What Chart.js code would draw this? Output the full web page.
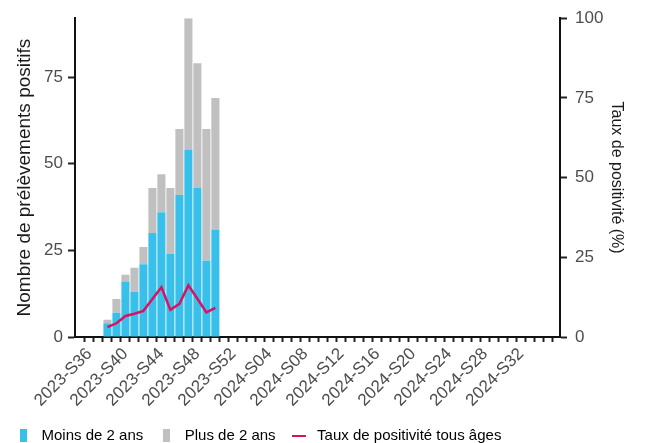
<!DOCTYPE html>
<html lang="fr">
<head>
<meta charset="utf-8">
<title>Prélèvements positifs</title>
<script src="https://cdn.jsdelivr.net/npm/chart.js@4.4.1/dist/chart.umd.min.js"></script>
<style>
  html, body { margin: 0; padding: 0; background: #fff; }
  #wrap { width: 649px; height: 443px; }
</style>
</head>
<body>
<div id="wrap"><canvas id="chart" width="649" height="443"></canvas></div>
<script>
// Weeks shown on the x axis
const weeks = [
    '2023-S36', '2023-S37', '2023-S38', '2023-S39', '2023-S40', '2023-S41', '2023-S42', '2023-S43',
    '2023-S44', '2023-S45', '2023-S46', '2023-S47', '2023-S48', '2023-S49', '2023-S50', '2023-S51',
    '2023-S52', '2024-S01', '2024-S02', '2024-S03', '2024-S04', '2024-S05', '2024-S06', '2024-S07',
    '2024-S08', '2024-S09', '2024-S10', '2024-S11', '2024-S12', '2024-S13', '2024-S14', '2024-S15',
    '2024-S16', '2024-S17', '2024-S18', '2024-S19', '2024-S20', '2024-S21', '2024-S22', '2024-S23',
    '2024-S24', '2024-S25', '2024-S26', '2024-S27', '2024-S28', '2024-S29', '2024-S30', '2024-S31',
    '2024-S32', '2024-S33', '2024-S34', '2024-S35'
];

// Weeks with data
const dataWeeks = [
    '2023-S38', '2023-S39', '2023-S40', '2023-S41', '2023-S42', '2023-S43', '2023-S44',
    '2023-S45', '2023-S46', '2023-S47', '2023-S48', '2023-S49', '2023-S50'
];
const moinsDe2Ans = [4, 7, 16, 13, 21, 30, 36, 24, 41, 54, 43, 22, 31];
const plusDe2Ans = [1, 4, 2, 7, 5, 13, 11, 19, 19, 38, 36, 38, 38];
const tauxPositivite = [3.1, 4.3, 6.6, 7.3, 8.2, 11.9, 15.6, 8.5, 10.4, 16.2, 12.0, 7.7, 9.1];

const leftTicks = [0, 25, 50, 75];
const rightTicks = [0, 25, 50, 75, 100];

// Colors
const blue = '#38C0EA';
const gray = '#C0C0C0';
const pink = '#DC1260';

Chart.defaults.font.family = '"Liberation Sans", Arial, sans-serif';

// Build {x, y} points from a week list
function toPoints(values) {
    return dataWeeks.map((w, i) => ({ x: weeks.indexOf(w), y: values[i] }));
}

// Small canvases used as legend keys
function makeKey(w, h, color) {
    const c = document.createElement('canvas');
    c.width = w;
    c.height = h;
    const g = c.getContext('2d');
    g.fillStyle = color;
    g.fillRect(0, 0, w, h);
    return c;
}
const blueKey = makeKey(7, 13, blue);
const grayKey = makeKey(7, 13, gray);
const lineKey = makeKey(14, 2, pink);

const ctx = document.getElementById('chart');

new Chart(ctx, {
    type: 'bar',
    data: {
        datasets: [
            {
                type: 'line',
                label: 'Taux de positivité tous âges',
                data: toPoints(tauxPositivite),
                borderColor: pink,
                borderWidth: 2.5,
                pointRadius: 0,
                tension: 0,
                yAxisID: 'y1',
                order: 0
            },
            {
                label: 'Moins de 2 ans',
                data: toPoints(moinsDe2Ans),
                backgroundColor: blue,
                barPercentage: 0.9,
                categoryPercentage: 1,
                yAxisID: 'y',
                order: 1
            },
            {
                label: 'Plus de 2 ans',
                data: toPoints(plusDe2Ans),
                backgroundColor: gray,
                barPercentage: 0.9,
                categoryPercentage: 1,
                yAxisID: 'y',
                order: 1
            }
        ]
    },
    options: {
        responsive: false,
        animation: false,
        layout: {
            padding: { top: 17, right: 0, bottom: -10, left: 0 }
        },
        plugins: {
            tooltip: { enabled: false },
            legend: {
                position: 'bottom',
                align: 'start',
                labels: {
                    usePointStyle: true,
                    pointStyleWidth: 22,
                    padding: 12,
                    color: '#1a1a1a',
                    font: { size: 15 },
                    generateLabels: () => [
                        { text: 'Moins de 2 ans', pointStyle: blueKey, fillStyle: blue, strokeStyle: blue, lineWidth: 0, hidden: false, datasetIndex: 1 },
                        { text: 'Plus de 2 ans', pointStyle: grayKey, fillStyle: gray, strokeStyle: gray, lineWidth: 0, hidden: false, datasetIndex: 2 },
                        { text: 'Taux de positivité tous âges', pointStyle: lineKey, fillStyle: pink, strokeStyle: pink, lineWidth: 0, hidden: false, datasetIndex: 0 }
                    ]
                }
            }
        },
        scales: {
            x: {
                type: 'linear',
                stacked: true,
                min: -1.09,
                max: 51.8,
                afterBuildTicks: (scale) => {
                    scale.ticks = weeks.map((w, i) => ({ value: i }));
                },
                afterFit: (scale) => { scale.height = 79; },
                grid: {
                    display: true,
                    drawOnChartArea: false,
                    drawTicks: true,
                    tickLength: 5,
                    tickWidth: 2,
                    tickColor: '#222'
                },
                border: { display: true, color: '#111', width: 2 },
                ticks: {
                    autoSkip: false,
                    maxRotation: 45,
                    minRotation: 45,
                    labelOffset: 0,
                    padding: 2,
                    color: '#4d4d4d',
                    font: { size: 17 },
                    callback: (value) => (value % 4 === 0 ? weeks[value] : '')
                }
            },
            y: {
                position: 'left',
                stacked: true,
                min: 0,
                max: 92,
                afterBuildTicks: (scale) => {
                    scale.ticks = leftTicks.map(v => ({ value: v }));
                },
                afterFit: (scale) => { scale.width = 75; },
                grid: {
                    display: true,
                    drawOnChartArea: false,
                    tickLength: 7,
                    tickWidth: 2,
                    tickColor: '#222'
                },
                border: { display: true, color: '#111', width: 2 },
                ticks: {
                    padding: 5,
                    color: '#4d4d4d',
                    font: { size: 17 }
                },
                title: {
                    display: true,
                    text: 'Nombre de prélèvements positifs',
                    color: '#1a1a1a',
                    font: { size: 19 },
                    padding: { top: 13, bottom: 0 }
                }
            },
            y1: {
                position: 'right',
                min: 0,
                max: 100,
                afterBuildTicks: (scale) => {
                    scale.ticks = rightTicks.map(v => ({ value: v }));
                },
                afterFit: (scale) => { scale.width = 89; },
                grid: {
                    display: true,
                    drawOnChartArea: false,
                    tickLength: 7,
                    tickWidth: 2,
                    tickColor: '#222'
                },
                border: { display: true, color: '#111', width: 2 },
                ticks: {
                    padding: 8,
                    color: '#4d4d4d',
                    font: { size: 17 }
                },
                title: {
                    display: true,
                    text: 'Taux de positivité (%)',
                    color: '#1a1a1a',
                    font: { size: 16 },
                    padding: { top: 23, bottom: 0 }
                }
            }
        }
    }
});
</script>
</body>
</html>
